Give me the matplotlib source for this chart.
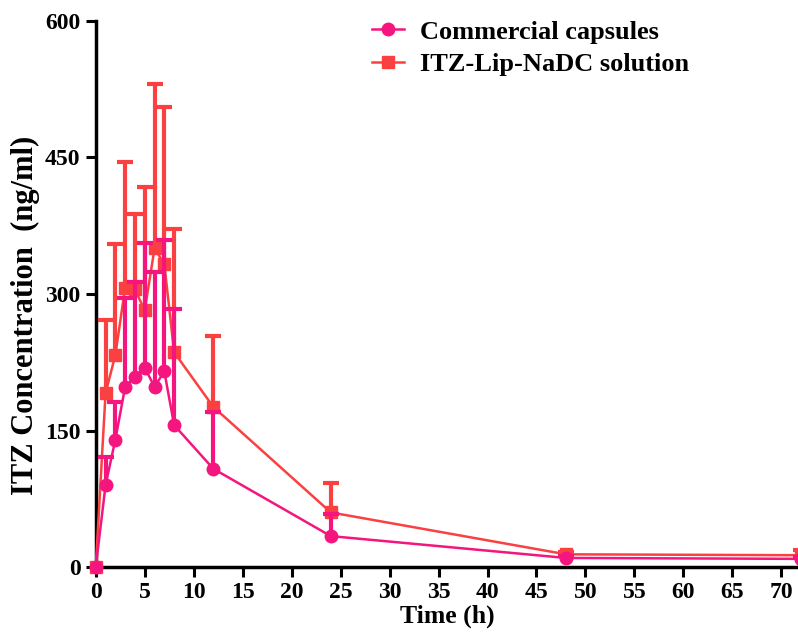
import matplotlib
matplotlib.use('Agg')
import matplotlib.pyplot as plt
import numpy as np

# Sampling times (h)
time = [0, 1, 2, 3, 4, 5, 6, 7, 8, 12, 24, 48, 72]

# Commercial capsules: mean and upper SD
caps_mean = [0, 90, 140, 198, 209, 219, 198, 215, 156, 108, 34, 10, 9]
caps_sd = [0, 31, 41, 98, 104, 137, 126, 144, 127, 62, 24, 2, 2]

# ITZ-Lip-NaDC solution: mean and upper SD
lip_mean = [0, 191, 233, 307, 305, 282, 350, 333, 236, 176, 60, 14, 13]
lip_sd = [0, 80, 122, 138, 83, 136, 181, 172, 135, 78, 32, 3, 6]

ticks_x = list(range(0, 75, 5))
ticks_y = [0, 150, 300, 450, 600]

pink = '#F5157E'
red = '#FA4040'

plt.rcParams['font.family'] = ['Liberation Serif', 'DejaVu Serif']
plt.rcParams['font.weight'] = 'bold'

fig = plt.figure(figsize=(7.98, 6.35), dpi=100)
ax = fig.add_axes([0.12, 0.107, 0.88, 0.860])


def draw_series(mean, sd, color, marker, label, z):
    """Line with markers plus upper-only error bars."""
    mean = np.asarray(mean, float)
    top = mean + np.asarray(sd, float)
    has_bar = np.asarray(sd) > 0
    t = np.asarray(time, float)
    ax.vlines(t[has_bar], mean[has_bar], top[has_bar], color=color,
              linewidth=3, zorder=z, clip_on=False)
    ax.plot(t[has_bar], top[has_bar], ls='none', marker='_',
            markersize=12, markeredgewidth=3, color=color, zorder=z,
            clip_on=False)
    line, = ax.plot(t, mean, color=color, marker=marker, markersize=9,
                    linewidth=1.8, label=label, zorder=z + 0.5,
                    clip_on=False)
    return line


h_lip = draw_series(lip_mean, lip_sd, red, 's', 'ITZ-Lip-NaDC solution', 3)
h_caps = draw_series(caps_mean, caps_sd, pink, 'o', 'Commercial capsules', 4)

ax.set_xlim(0, 71.7)
ax.set_ylim(0, 600)
ax.set_xticks(ticks_x)
ax.set_yticks(ticks_y)

for side in ('top', 'right'):
    ax.spines[side].set_visible(False)
for side in ('left', 'bottom'):
    ax.spines[side].set_linewidth(2.5)
ax.tick_params(width=2.2, length=7, labelsize=17, direction='out', pad=4)
for lab in ax.get_xticklabels() + ax.get_yticklabels():
    lab.set_fontweight('bold')

ax.set_xlabel('Time (h)', fontsize=18.5, fontweight='bold', labelpad=1)
ax.set_ylabel('ITZ Concentration  (ng/ml)', fontsize=22,
              fontweight='bold')
ax.yaxis.set_label_coords(-0.08, 0.46)

ax.legend([h_caps, h_lip], ['Commercial capsules', 'ITZ-Lip-NaDC solution'],
          loc='upper left', bbox_to_anchor=(0.36, 1.045), frameon=False,
          prop={'size': 19, 'weight': 'bold'}, handlelength=1.2,
          handletextpad=0.6, labelspacing=0.35)

fig.savefig('out.png', dpi=100)
